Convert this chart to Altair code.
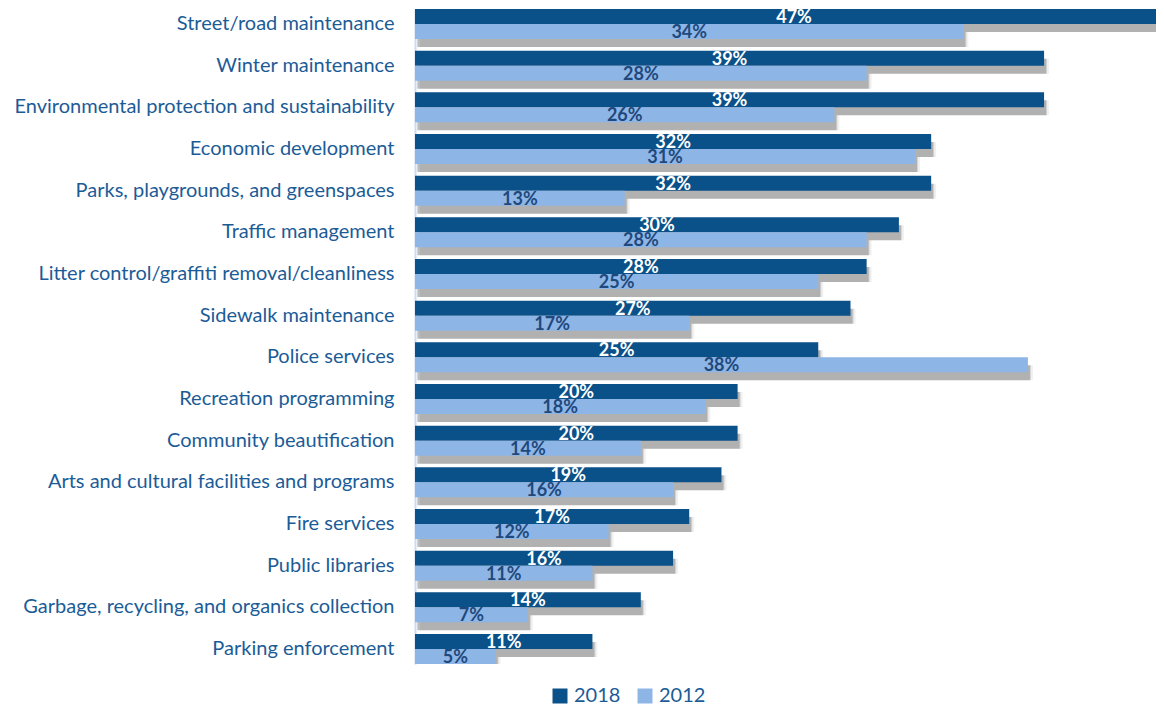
import altair as alt
import pandas as pd

NB = "\u00a0"
categories = [
    "Street/road maintenance" + NB,
    "Winter maintenance",
    "Environmental protection and sustainability" + NB,
    "Economic development" + NB,
    "Parks, playgrounds, and greenspaces",
    "Traffic management" + NB,
    "Litter control/graffiti removal/cleanliness" + NB + NB,
    "Sidewalk maintenance" + NB,
    "Police services",
    "Recreation programming",
    "Community beautification",
    "Arts and cultural facilities and programs" + NB,
    "Fire services",
    "Public libraries",
    "Garbage, recycling, and organics collection",
    "Parking enforcement" + NB,
]
v2018 = [47, 39, 39, 32, 32, 30, 28, 27, 25, 20, 20, 19, 17, 16, 14, 11]
v2012 = [34, 28, 26, 31, 13, 28, 25, 17, 38, 18, 14, 16, 12, 11, 7, 5]
series = ["2018", "2012"]
colors = ["#0B5189", "#8DB6E6"]

rows = []
for c, a, b in zip(categories, v2018, v2012):
    rows.append({"category": c, "series": "2018", "value": a})
    rows.append({"category": c, "series": "2012", "value": b})
df = pd.DataFrame(rows)
df["label"] = df["value"].astype(str) + "%"
df["mid"] = df["value"] / 2

PLOT_W = 741
XMAX = PLOT_W / 16.13
FONT = "Lato"
BAND = 30

y_enc = alt.Y("category:N", sort=categories,
              scale=alt.Scale(paddingInner=0.28, paddingOuter=0),
              axis=alt.Axis(title=None, ticks=False, tickSize=0, labelPadding=21,
                            labelFont=FONT, labelFontSize=20, labelColor="#1B5C97",
                            domainColor="#CCDCEE", domainWidth=2,
                            minExtent=407, maxExtent=407, labelLimit=420))
yoff = alt.YOffset("series:N", sort=series, scale=alt.Scale(paddingInner=0, paddingOuter=0))
x_enc = alt.X("value:Q", scale=alt.Scale(domain=[0, XMAX], clamp=True), axis=None)

base = alt.Chart(df)

def shadow_layer(dx, dy, op):
    return base.mark_bar(color="#000000", opacity=op, xOffset=dx, clip=True).encode(
        x=x_enc, y=y_enc,
        yOffset=alt.YOffset("series:N", sort=series,
                            scale=alt.Scale(domain=series, range=[dy, BAND + dy],
                                            paddingInner=0, paddingOuter=0)))

shadows = alt.layer(shadow_layer(5, 8, 0.06), shadow_layer(3, 5, 0.11), shadow_layer(2, 3, 0.17))

bars = base.mark_bar(clip=True).encode(
    x=x_enc, y=y_enc, yOffset=yoff,
    color=alt.Color("series:N", sort=series,
                    scale=alt.Scale(domain=series, range=colors),
                    legend=alt.Legend(title=None, orient="none", direction="horizontal",
                                      legendX=135, legendY=677,
                                      symbolType="square", symbolSize=225,
                                      symbolStrokeWidth=0, symbolOpacity=1,
                                      labelFont=FONT, labelFontSize=20,
                                      labelColor="#1B5C97", labelOffset=4,
                                      columnPadding=14)),
)

labels = base.mark_text(font=FONT, fontSize=18, fontWeight="bold", baseline="middle",
                        align="center", dy=1.5).encode(
    x=alt.X("mid:Q", scale=alt.Scale(domain=[0, XMAX], clamp=True), axis=None),
    y=y_enc, yOffset=yoff,
    text="label:N",
    color=alt.condition(alt.datum.series == "2018", alt.value("white"), alt.value("#1F497D")),
)

main = alt.layer(bars, labels)

chart = alt.layer(shadows, main).resolve_scale(yOffset="independent").properties(
    width=PLOT_W, height=655, padding=0, background="white"
).configure_view(stroke=None)

chart.save("out.html", embed_options={"renderer": "svg", "actions": False})
